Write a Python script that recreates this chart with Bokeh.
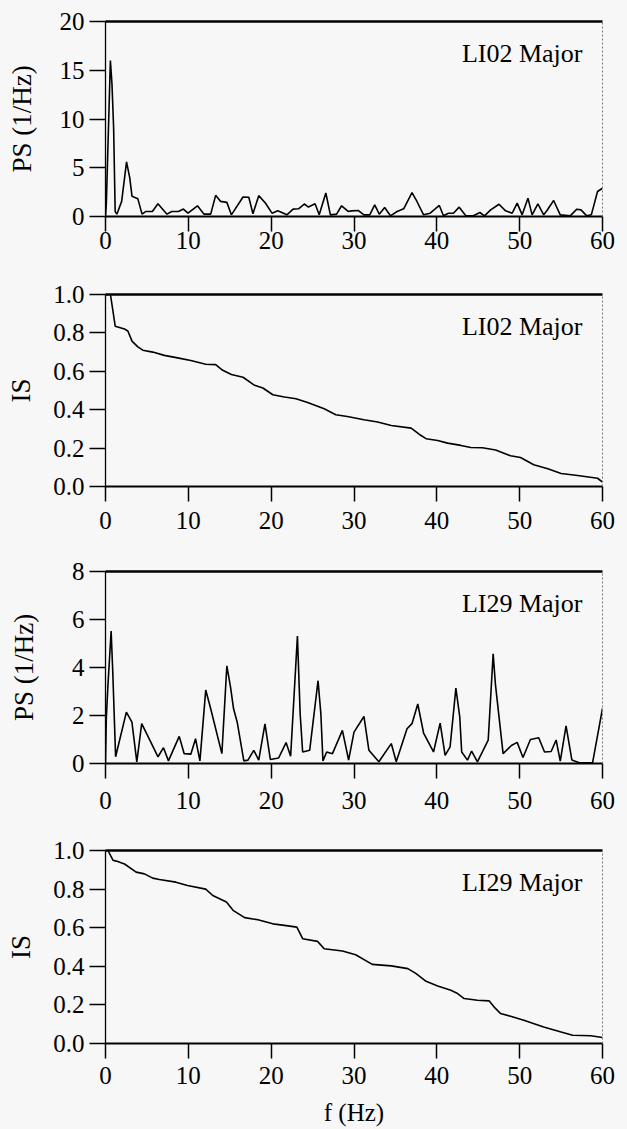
from bokeh.plotting import figure
from bokeh.layouts import column
from bokeh.models import Range1d, FixedTicker, LinearAxis, Label, PrintfTickFormatter
from bokeh.embed import file_html
from bokeh.resources import INLINE

# ---------------- data ----------------
freq_ps_li02 = [0, 0.1, 0.59, 0.78, 0.98, 1.17, 1.37, 1.95, 2.54, 2.93,
                3.2, 3.9, 4.41, 4.88, 5.66, 6.33, 7.42, 8.0, 8.8, 9.4,
                9.96, 11.1, 11.9, 12.7, 13.3, 13.9, 14.65, 15.2, 16.6, 17.3,
                17.8, 18.5, 19.3, 20.1, 20.8, 21.9, 22.65, 23.3, 24.0, 24.5,
                25.3, 25.8, 26.6, 27.15, 27.9, 28.5, 29.3, 29.7, 30.5, 31.2,
                31.9, 32.5, 33.05, 33.7, 34.4, 35.2, 36.0, 37.0, 37.6, 38.4,
                39.2, 40.3, 40.8, 41.4, 42.0, 42.7, 43.5, 44.4, 45.2, 45.75,
                46.5, 47.5, 48.3, 49.1, 49.7, 50.3, 51.0, 51.5, 52.2, 52.9,
                53.3, 54.1, 54.9, 56.1, 56.9, 57.4, 58.1, 58.65, 59.4, 60]
ps_li02 = [0, 1.3, 16.0, 13.6, 9.1, 0.5, 0.24, 1.55, 5.6, 3.97,
           2.07, 1.83, 0.24, 0.52, 0.52, 1.31, 0.24, 0.52, 0.52, 0.76,
           0.34, 1.1, 0.24, 0.24, 2.17, 1.55, 1.45, 0.17, 2.0, 1.97,
           0.28, 2.14, 1.38, 0.34, 0.59, 0.17, 0.76, 0.79, 1.28, 0.97,
           1.31, 0.17, 2.41, 0.17, 0.24, 1.1, 0.52, 0.58, 0.62, 0.17,
           0.17, 1.2, 0.24, 0.92, 0.07, 0.51, 0.79, 2.46, 1.54, 0.17,
           0.34, 1.13, 0.07, 0.34, 0.34, 0.96, 0.07, 0.07, 0.41, 0.07,
           0.68, 1.26, 0.58, 0.34, 1.37, 0.17, 1.88, 0.17, 1.3, 0.17,
           0.62, 1.64, 0.17, 0.07, 0.75, 0.68, 0.07, 0.17, 2.56, 2.9]

freq_is_li02 = [0, 0.6, 1.17, 2.3, 2.7, 3.2, 3.9, 4.5, 5.7, 7.1,
                8.7, 10.3, 12.1, 13.3, 14.15, 15.2, 16.6, 18.0, 19.0, 20.2,
                21.6, 23.0, 24.4, 26.4, 27.8, 29.2, 31.2, 32.85, 34.5, 36.9,
                37.9, 38.7, 40.1, 41.3, 42.9, 44.1, 45.5, 47.1, 48.9, 50.1,
                51.7, 53.4, 55.0, 57.0, 59.4, 60]
is_li02 = [1.0, 1.0, 0.835, 0.82, 0.81, 0.757, 0.727, 0.71, 0.70, 0.683,
           0.67, 0.656, 0.637, 0.635, 0.605, 0.583, 0.569, 0.527, 0.513, 0.478,
           0.466, 0.457, 0.437, 0.405, 0.374, 0.365, 0.348, 0.336, 0.318, 0.304,
           0.271, 0.249, 0.24, 0.226, 0.214, 0.203, 0.202, 0.19, 0.16, 0.151,
           0.113, 0.092, 0.068, 0.057, 0.043, 0.023]

freq_ps_li29 = [0, 0.1, 0.28, 0.68, 0.88, 1.22, 2.52, 3.19, 3.78, 4.37,
                5.35, 6.34, 7.0, 7.6, 8.9, 9.5, 10.3, 10.87, 11.4, 12.1,
                12.7, 14.05, 14.65, 15.1, 15.46, 15.9, 16.7, 17.2, 17.9, 18.5,
                19.25, 19.9, 20.9, 21.8, 22.35, 23.17, 23.5, 23.8, 24.65, 25.66,
                26.0, 26.25, 26.7, 27.4, 28.6, 29.35, 30.0, 31.2, 31.8, 33.0,
                34.5, 35.1, 36.4, 37.0, 37.7, 38.4, 39.6, 40.4, 41.0, 41.6,
                42.3, 42.77, 43.0, 43.7, 44.2, 44.9, 46.2, 46.8, 47.07, 48.0,
                49.0, 49.7, 50.4, 51.3, 52.3, 53.0, 53.8, 54.4, 54.9, 55.6,
                56.3, 57.2, 58.8, 60]
ps_li29 = [0, 1.9, 3.17, 5.52, 3.79, 0.28, 2.14, 1.72, 0.07, 1.66,
           0.97, 0.28, 0.66, 0.11, 1.13, 0.41, 0.39, 1.03, 0.11, 3.06,
           2.28, 0.41, 4.07, 3.17, 2.28, 1.72, 0.11, 0.14, 0.55, 0.14,
           1.65, 0.17, 0.23, 0.87, 0.3, 5.31, 2.07, 0.48, 0.55, 3.45,
           2.07, 0.11, 0.48, 0.41, 1.38, 0.14, 1.31, 1.96, 0.55, 0.07,
           0.83, 0.07, 1.45, 1.66, 2.48, 1.27, 0.48, 1.68, 0.34, 0.69,
           3.14, 1.93, 0.48, 0.14, 0.52, 0.07, 0.97, 4.57, 3.31, 0.41,
           0.75, 0.88, 0.25, 1.0, 1.07, 0.48, 0.5, 0.98, 0.1, 1.57,
           0.15, 0.03, 0.03, 2.3]

freq_is_li29 = [0, 0.3, 0.9, 1.3, 2.3, 3.7, 4.7, 5.7, 6.5, 8.5,
                9.9, 12.1, 12.95, 14.6, 15.4, 16.8, 18.4, 20.2, 21.6, 23.1,
                23.8, 25.6, 26.4, 28.6, 30.2, 32.2, 34.5, 36.5, 37.5, 38.7,
                40.1, 41.7, 42.5, 43.3, 44.9, 46.3, 46.9, 47.7, 48.9, 50.5,
                52.9, 55.0, 56.4, 58.6, 60]
is_li29 = [1.0, 1.0, 0.95, 0.945, 0.93, 0.888, 0.879, 0.857, 0.85, 0.836,
           0.819, 0.80, 0.767, 0.733, 0.69, 0.652, 0.641, 0.62, 0.612, 0.603,
           0.543, 0.529, 0.491, 0.479, 0.46, 0.41, 0.402, 0.388, 0.362, 0.322,
           0.298, 0.276, 0.259, 0.233, 0.224, 0.221, 0.19, 0.155, 0.141, 0.121,
           0.086, 0.06, 0.043, 0.04, 0.031]

x_ticks = [0, 10, 20, 30, 40, 50, 60]
ps_li02_ticks = [0, 5, 10, 15, 20]
ps_li29_ticks = [0, 2, 4, 6, 8]
is_ticks = [0.0, 0.2, 0.4, 0.6, 0.8, 1.0]
panel_names = ["LI02 Major", "LI02 Major", "LI29 Major", "LI29 Major"]
y_labels = ["PS (1/Hz)", "IS", "PS (1/Hz)", "IS"]
x_label = "f (Hz)"

# ---------------- style ----------------
BG = "#f7f7f7"
FONT = "Liberation Serif"


def make_panel(fx, fy, ymax, yticks, ylabel, name, height, top, bottom,
               fmt=None, xlabel=None, x_standoff=10, ylab_standoff=14):
    p = figure(width=627, height=height,
               x_range=Range1d(0, 60), y_range=Range1d(0, ymax),
               output_backend="svg", toolbar_location=None,
               min_border_left=105, min_border_right=25,
               min_border_top=top, min_border_bottom=bottom,
               background_fill_color=BG, border_fill_color=BG,
               outline_line_color=None)
    p.grid.visible = False

    xa = p.xaxis[0]
    xa.ticker = FixedTicker(ticks=x_ticks)
    xa.axis_line_width = 2.2
    xa.axis_line_color = "black"
    xa.major_tick_out = 15
    xa.major_tick_in = 0
    xa.major_tick_line_width = 1.5
    xa.minor_tick_out = 0
    xa.minor_tick_in = 0
    xa.major_label_standoff = x_standoff
    xa.major_label_text_font = FONT
    xa.major_label_text_font_size = "25px"
    xa.major_label_text_color = "black"
    if xlabel:
        xa.axis_label = xlabel
        xa.axis_label_text_font = FONT
        xa.axis_label_text_font_size = "25px"
        xa.axis_label_text_font_style = "normal"
        xa.axis_label_text_color = "black"
        xa.axis_label_standoff = 12

    ya = p.yaxis[0]
    ya.ticker = FixedTicker(ticks=yticks)
    if fmt:
        ya.formatter = PrintfTickFormatter(format=fmt)
    ya.axis_line_width = 1.3
    ya.axis_line_color = "black"
    ya.major_tick_out = 16
    ya.major_tick_in = 0
    ya.major_tick_line_width = 1.5
    ya.minor_tick_out = 0
    ya.minor_tick_in = 0
    ya.major_label_standoff = 5
    ya.major_label_text_font = FONT
    ya.major_label_text_font_size = "25px"
    ya.major_label_text_color = "black"
    ya.axis_label = ylabel
    ya.axis_label_text_font = FONT
    ya.axis_label_text_font_size = "27px"
    ya.axis_label_text_font_style = "normal"
    ya.axis_label_text_color = "black"
    ya.axis_label_standoff = ylab_standoff

    top_axis = LinearAxis(ticker=FixedTicker(ticks=[]), axis_line_width=2.6,
                          axis_line_color="black", major_tick_out=0, major_tick_in=0,
                          minor_tick_out=0, minor_tick_in=0)
    p.add_layout(top_axis, "above")
    right_axis = LinearAxis(ticker=FixedTicker(ticks=[]),
                            axis_line_width=1, axis_line_color="#777777",
                            axis_line_dash="2 2", major_tick_out=0, major_tick_in=0,
                            minor_tick_out=0, minor_tick_in=0)
    p.add_layout(right_axis, "right")

    p.line(fx, fy, line_color="black", line_width=1.6)

    p.add_layout(Label(x=60, y=ymax, x_offset=-20, y_offset=-32, text=name,
                       text_align="right", text_baseline="alphabetic",
                       text_font=FONT, text_font_size="26px", text_color="black"))
    return p


p1 = make_panel(freq_ps_li02, ps_li02, 20, ps_li02_ticks, y_labels[0], panel_names[0],
                height=274, top=21, bottom=58, x_standoff=0, ylab_standoff=20)
p2 = make_panel(freq_is_li02, is_li02, 1.0, is_ticks, y_labels[1], panel_names[1],
                height=277, top=20, bottom=65, fmt="%.1f", x_standoff=10, ylab_standoff=14)
p3 = make_panel(freq_ps_li29, ps_li29, 8, ps_li29_ticks, y_labels[2], panel_names[2],
                height=279, top=20, bottom=67, x_standoff=13, ylab_standoff=30)
p4 = make_panel(freq_is_li29, is_li29, 1.0, is_ticks, y_labels[3], panel_names[3],
                height=299, top=20, bottom=86, fmt="%.1f", xlabel=x_label,
                x_standoff=8, ylab_standoff=14)

layout = column(p1, p2, p3, p4, spacing=0)
layout.background = BG

open("out.html", "w").write(file_html(layout, INLINE))
